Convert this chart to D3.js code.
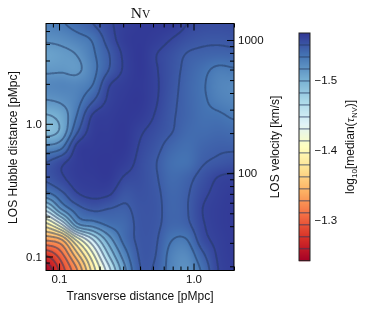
<!DOCTYPE html>
<html>
<head>
<meta charset="utf-8">
<script src="https://cdn.jsdelivr.net/npm/d3@7"></script>
<style>
	html, body { margin: 0; padding: 0; background: #fff; }
	#holder { position: relative; width: 366px; height: 311px; overflow: hidden; }
	canvas, svg { position: absolute; left: 0; top: 0; }
	text { font-family: "Liberation Sans", sans-serif; fill: #111; }
</style>
</head>
<body>
<div id="holder"></div>
<script>
// Axis ranges and ticks
var xRange = [0.08, 2.0];
var yRange = [0.0784, 5.7];
var velocityRange = [18.6, 1330];
var xMajor = [0.1, 1];
var xMinor = [0.09, 0.2, 0.3, 0.4, 0.5, 0.6, 0.7, 0.8, 0.9, 2];
var yMajor = [0.1, 1];
var yMinor = [0.09, 0.2, 0.3, 0.4, 0.5, 0.6, 0.7, 0.8, 0.9, 2, 3, 4, 5];
var velocityMajor = [100, 1000];
var velocityMinor = [20, 30, 40, 50, 60, 70, 80, 90, 200, 300, 400, 500, 600, 700, 800, 900];

// Colourbar
var tauRange = [-1.567, -1.242];
var tauTicks = [-1.5, -1.4, -1.3];
var tauColors = ['#313695', '#4575b4', '#74add1', '#abd9e9', '#e0f3f8', '#ffffbf', '#fee090', '#fdae61', '#f46d43', '#d73027', '#a50026'];
var contourSteps = d3.range(1, 19);

// The image in the reference runs darker than its contour lines at the faint
// end: contour step (first list) against the colourbar step it is shaded with.
var lineSteps = [0, 1, 2, 3, 4, 5, 6, 7, 8, 19];
var shadeSteps = [0, 0.45, 1.15, 1.95, 2.95, 4, 5.2, 6.6, 8, 19];

// Map, top row first, left to right, evenly spaced in
// log distance. Counted in contour steps above the bottom of the colourbar.
var mapRows = [
	[3.4, 3.1, 2.6, 2.0, 1.2, 0.6, 0.3, 0.25, 0.3, 1.0, 1.3, 1.35, 1.35],
	[3.85, 3.7, 3.35, 2.85, 1.55, 0.5, 0.25, 0.5, 1.0, 1.5, 1.75, 1.8, 1.7],
	[4.45, 4.25, 3.95, 3.15, 2.05, 0.8, 0.2, 0.95, 1.5, 2.05, 2.25, 2.35, 2.3],
	[4.15, 4.1, 4.15, 3.3, 2.0, 0.85, 0.2, 0.9, 1.6, 2.25, 2.75, 3.2, 3.1],
	[3.6, 3.5, 3.5, 2.95, 1.1, 0.5, 0.25, 0.85, 1.65, 2.35, 2.9, 3.45, 3.6],
	[4.05, 3.85, 3.3, 2.05, 0.8, 0.3, 0.2, 0.9, 1.75, 2.35, 2.85, 3.3, 3.5],
	[5.1, 4.6, 2.9, 0.85, 0.45, 0.2, 0.4, 1.1, 1.85, 2.35, 2.75, 2.85, 3.1],
	[5.4, 4.7, 2.1, 0.5, 0.3, 0.15, 0.85, 1.4, 1.95, 2.5, 2.6, 2.5, 2.6],
	[3.8, 3.2, 0.7, 0.3, 0.2, 0.2, 1.1, 1.7, 2.4, 2.7, 2.35, 2.15, 2.15],
	[2.0, 1.2, 0.45, 0.2, 0.15, 0.5, 1.3, 1.95, 2.7, 2.8, 2.1, 1.8, 1.6],
	[1.8, 1.15, 0.5, 0.35, 0.25, 1.1, 1.4, 1.9, 2.55, 2.3, 1.6, 0.95, 0.75],
	[3.2, 2.2, 1.05, 0.7, 0.85, 1.7, 1.55, 1.8, 2.4, 2.1, 1.25, 0.7, 0.4],
	[6.5, 3.9, 2.4, 1.8, 2.0, 2.15, 1.7, 1.75, 2.35, 2.05, 1.0, 0.55, 0.3],
	[10.3, 8, 4.2, 3.5, 2.8, 2.5, 1.75, 1.8, 2.4, 2.2, 1.1, 0.55, 0.3],
	[13.8, 13, 9.6, 7, 4.5, 2.7, 1.8, 1.9, 2.95, 3.0, 1.4, 0.7, 0.35],
	[16.9, 15.3, 12.3, 9.2, 6, 3.5, 1.9, 2.0, 3.35, 3.6, 2.2, 0.85, 0.4],
	[18.8, 16.5, 14, 10.5, 7.4, 4.3, 2.05, 2.15, 3.45, 3.9, 2.8, 1, 0.5]
];

var plot = {left: 46, right: 234, top: 23.5, bottom: 270.5};
var bar = {left: 299, right: 310, top: 33, bottom: 260.7};
var lineColor = '#26375f';

var x = d3.scaleLog().domain(xRange).range([plot.left, plot.right]);
var y = d3.scaleLog().domain(yRange).range([plot.bottom, plot.top]);
var velocity = d3.scaleLog().domain(velocityRange).range([plot.bottom, plot.top]);
var stepToTau = d3.scaleLinear().domain([0, 19]).range(tauRange);
var tauY = d3.scaleLinear().domain(tauRange).range([bar.top, bar.bottom]);
var shadeOf = d3.scaleLinear().domain(lineSteps.map(stepToTau)).range(shadeSteps.map(stepToTau));

var tauColor = d3.scaleLinear()
	.domain(tauColors.map(function (c, i) { return tauRange[0] + (tauRange[1] - tauRange[0]) * i / (tauColors.length - 1); }))
	.range(tauColors)
	.clamp(true);

// Grid position of a pixel, through the distance scales
var colOf = d3.scaleLinear().domain([Math.log10(xRange[0]), Math.log10(xRange[1])]).range([0, mapRows[0].length - 1]);
var rowOf = d3.scaleLinear().domain([Math.log10(yRange[1]), Math.log10(yRange[0])]).range([0, mapRows.length - 1]);

function catmull(a, b, c, d, t) {
	return 0.5 * (2 * b + (c - a) * t + (2 * a - 5 * b + 4 * c - d) * t * t + (3 * b - a - 3 * c + d) * t * t * t);
}

// The reference shows the map with a smooth image resampling, same idea here
function sampleMap(col, row) {
	var nCols = mapRows[0].length, nRows = mapRows.length;
	var c0 = Math.max(0, Math.min(nCols - 2, Math.floor(col)));
	var r0 = Math.max(0, Math.min(nRows - 2, Math.floor(row)));
	var at = function (r, c) {
		return mapRows[Math.max(0, Math.min(nRows - 1, r))][Math.max(0, Math.min(nCols - 1, c))];
	};
	var across = [-1, 0, 1, 2].map(function (dr) {
		return catmull(at(r0 + dr, c0 - 1), at(r0 + dr, c0), at(r0 + dr, c0 + 1), at(r0 + dr, c0 + 2), col - c0);
	});
	return stepToTau(catmull(across[0], across[1], across[2], across[3], row - r0));
}

var holder = d3.select('#holder');

// Colour map, one pixel per sample
var imgLeft = Math.floor(plot.left), imgTop = Math.floor(plot.top);
var imgW = Math.ceil(plot.right) - imgLeft, imgH = Math.ceil(plot.bottom) - imgTop;
var pad = 3;
var fieldW = imgW + 2 * pad, fieldH = imgH + 2 * pad;
var field = new Float64Array(fieldW * fieldH);
for (var j = 0; j < fieldH; j++) {
	var rowPos = rowOf(Math.log10(y.invert(imgTop - pad + j + 0.5)));
	for (var i = 0; i < fieldW; i++) {
		field[j * fieldW + i] = sampleMap(colOf(Math.log10(x.invert(imgLeft - pad + i + 0.5))), rowPos);
	}
}

var canvas = holder.append('canvas')
	.attr('width', imgW)
	.attr('height', imgH)
	.style('left', imgLeft + 'px')
	.style('top', imgTop + 'px');
var ctx = canvas.node().getContext('2d');
var image = ctx.createImageData(imgW, imgH);
for (var py = 0; py < imgH; py++) {
	for (var px = 0; px < imgW; px++) {
		var rgb = d3.rgb(tauColor(shadeOf(field[(py + pad) * fieldW + px + pad])));
		var k = (py * imgW + px) * 4;
		image.data[k] = rgb.r;
		image.data[k + 1] = rgb.g;
		image.data[k + 2] = rgb.b;
		image.data[k + 3] = 255;
	}
}
ctx.putImageData(image, 0, 0);

var svg = holder.append('svg')
	.attr('width', 366)
	.attr('height', 311);

svg.append('clipPath')
	.attr('id', 'plotClip')
	.append('rect')
	.attr('x', plot.left)
	.attr('y', plot.top)
	.attr('width', plot.right - plot.left)
	.attr('height', plot.bottom - plot.top);

// Slight softness, the reference is a downscaled raster
svg.append('filter')
	.attr('id', 'soft')
	.append('feGaussianBlur')
	.attr('stdDeviation', 0.35);

// Contour lines
var contours = d3.contours()
	.size([fieldW, fieldH])
	.thresholds(contourSteps.map(stepToTau))(field);

svg.append('g')
	.attr('clip-path', 'url(#plotClip)')
	.append('g')
	.attr('filter', 'url(#soft)')
	.attr('transform', 'translate(' + (imgLeft - pad) + ',' + (imgTop - pad) + ')')
	.selectAll('path')
	.data(contours)
	.join('path')
	.attr('d', d3.geoPath())
	.attr('fill', 'none')
	.attr('stroke', lineColor)
	.attr('stroke-opacity', 0.5)
	.attr('stroke-width', 1.9);

// Ticks point into the frame on all four sides
function ticks(axis, scale, values, length, translate, labels) {
	var g = svg.append('g')
		.attr('transform', translate)
		.call(axis(scale)
			.tickValues(values)
			.tickSize(-length)
			.tickSizeOuter(0)
			.tickPadding(4)
			.tickFormat(labels || ''));
	g.select('.domain').remove();
	g.selectAll('line').attr('stroke', '#000').attr('stroke-width', 1);
	g.selectAll('text').attr('font-size', 11.5).attr('font-family', '"Liberation Sans", sans-serif').attr('fill', '#111');
	return g;
}

var oneDecimal = d3.format('.1f');
var atBottom = 'translate(0,' + plot.bottom + ')';
var atLeft = 'translate(' + plot.left + ',0)';
var atTop = 'translate(0,' + plot.top + ')';
var atRight = 'translate(' + plot.right + ',0)';

ticks(d3.axisBottom, x, xMajor, 7, atBottom, oneDecimal);
ticks(d3.axisBottom, x, xMinor, 4, atBottom);
ticks(d3.axisTop, x, xMajor, 7, atTop);
ticks(d3.axisTop, x, xMinor, 4, atTop);
ticks(d3.axisLeft, y, yMajor, 7, atLeft, oneDecimal);
ticks(d3.axisLeft, y, yMinor, 4, atLeft);
ticks(d3.axisRight, velocity, velocityMajor, 7, atRight, d3.format('d'));
ticks(d3.axisRight, velocity, velocityMinor, 4, atRight);

svg.append('rect')
	.attr('x', plot.left)
	.attr('y', plot.top)
	.attr('width', plot.right - plot.left)
	.attr('height', plot.bottom - plot.top)
	.attr('fill', 'none')
	.attr('stroke', '#000')
	.attr('stroke-width', 1);

// Colourbar
var barRows = d3.range(bar.top, bar.bottom, 1);
svg.append('g')
	.selectAll('rect')
	.data(barRows)
	.join('rect')
	.attr('x', bar.left)
	.attr('y', function (d) { return d; })
	.attr('width', bar.right - bar.left)
	.attr('height', 1.2)
	.attr('fill', function (d) { return tauColor(tauY.invert(d + 0.5)); });

svg.append('g')
	.selectAll('line')
	.data(contourSteps)
	.join('line')
	.attr('x1', bar.left)
	.attr('x2', bar.right)
	.attr('y1', function (d) { return tauY(stepToTau(d)); })
	.attr('y2', function (d) { return tauY(stepToTau(d)); })
	.attr('stroke', lineColor)
	.attr('stroke-opacity', 0.5)
	.attr('stroke-width', 1.5);

svg.append('rect')
	.attr('x', bar.left)
	.attr('y', bar.top)
	.attr('width', bar.right - bar.left)
	.attr('height', bar.bottom - bar.top)
	.attr('fill', 'none')
	.attr('stroke', '#222')
	.attr('stroke-width', 1);

svg.append('g')
	.selectAll('text')
	.data(tauTicks)
	.join('text')
	.attr('x', 314.5)
	.attr('y', function (d) { return tauY(d); })
	.attr('dy', '0.36em')
	.attr('font-size', 11.5)
	.text(function (d) { return d3.format('.1f')(d).replace('-', '\u2212'); });

// Titles
var title = svg.append('text')
	.attr('x', 140.5)
	.attr('y', 18)
	.attr('text-anchor', 'middle')
	.style('font-family', '"Liberation Serif", serif')
	.attr('font-size', 15.5);
title.append('tspan').text('N');
title.append('tspan').attr('font-size', 11.5).text('V');

svg.append('text')
	.attr('x', 140)
	.attr('y', 300)
	.attr('text-anchor', 'middle')
	.attr('font-size', 12)
	.text('Transverse distance [pMpc]');

svg.append('text')
	.attr('transform', 'translate(17,147.5) rotate(-90)')
	.attr('text-anchor', 'middle')
	.attr('font-size', 12)
	.text('LOS Hubble distance [pMpc]');

svg.append('text')
	.attr('transform', 'translate(279,147) rotate(-90)')
	.attr('text-anchor', 'middle')
	.attr('font-size', 12)
	.text('LOS velocity [km/s]');

var barLabel = svg.append('text')
	.attr('transform', 'translate(354,147) rotate(-90)')
	.attr('text-anchor', 'middle')
	.attr('font-size', 12);
barLabel.append('tspan').text('log');
barLabel.append('tspan').attr('font-size', 8).attr('dy', 2.5).text('10');
barLabel.append('tspan').attr('dy', -2.5).text('[median(');
barLabel.append('tspan').style('font-family', '"Liberation Serif", serif').attr('font-style', 'italic').attr('font-size', 13).text('\u03c4');
barLabel.append('tspan').attr('font-size', 7.5).attr('dy', 2.5).text('NV');
barLabel.append('tspan').attr('dy', -2.5).text(')]');
</script>
</body>
</html>
